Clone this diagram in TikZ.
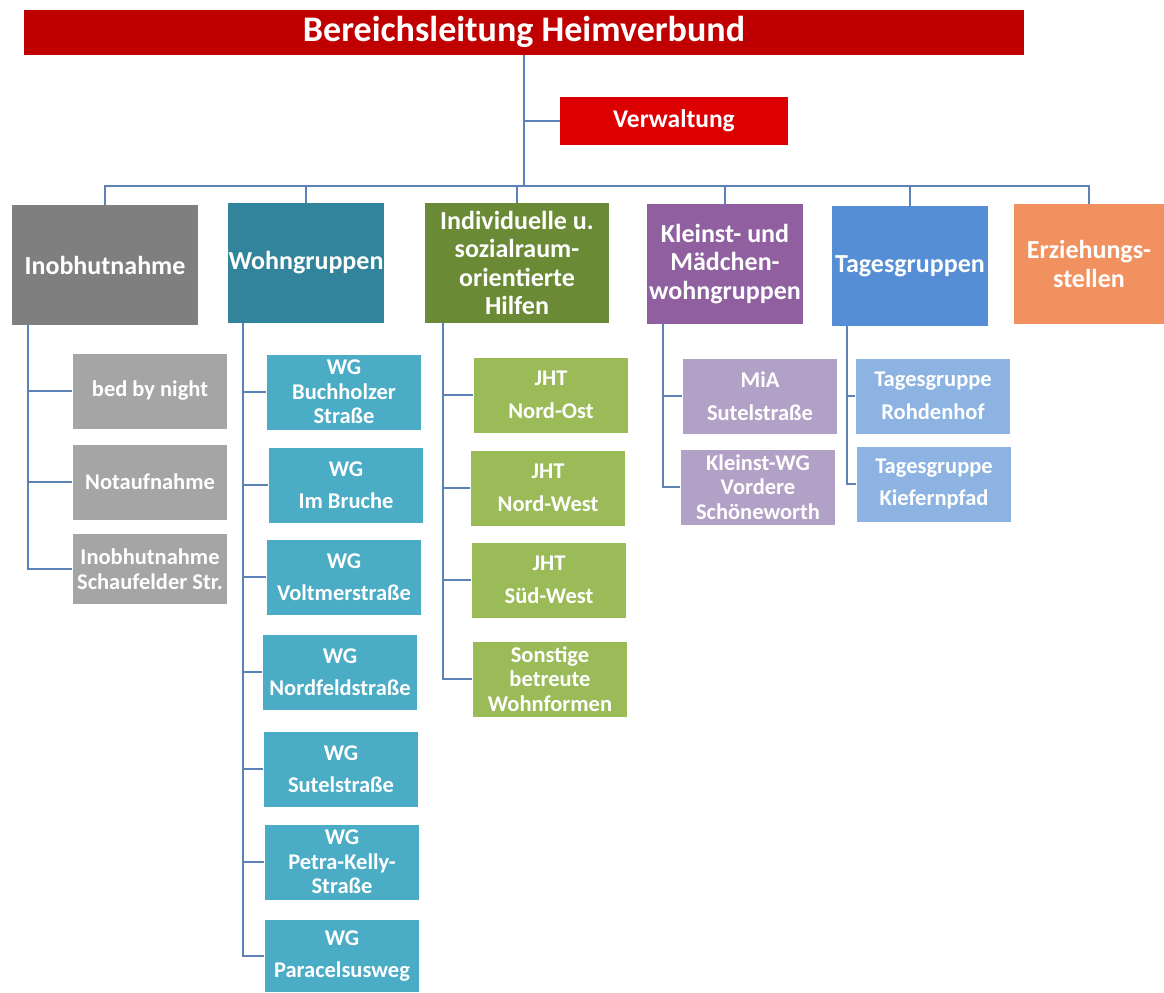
\documentclass[tikz,border=0pt]{standalone}
\usepackage{fontspec}
\setmainfont{Carlito}
\usepackage{tikz}
\usetikzlibrary{calc}
\definecolor{chefrot}{HTML}{C00000}
\definecolor{verwrot}{HTML}{DD0000}
\definecolor{graudunkel}{HTML}{7F7F7F}
\definecolor{grauhell}{HTML}{A5A5A5}
\definecolor{petroldunkel}{HTML}{31849B}
\definecolor{petrolhell}{HTML}{4BACC6}
\definecolor{gruendunkel}{HTML}{6B8A35}
\definecolor{gruenhell}{HTML}{9BBB59}
\definecolor{liladunkel}{HTML}{905F9F}
\definecolor{lilahell}{HTML}{B2A1C7}
\definecolor{blaudunkel}{HTML}{558ED5}
\definecolor{blauhell}{HTML}{8DB3E2}
\definecolor{orange}{HTML}{F0915F}
\definecolor{linie}{HTML}{5C82B8}
\tikzset{box/.style={inner sep=0pt, text=white, align=center, font=\bfseries}}
\tikzset{haupt/.style={box, minimum width=3.12cm, minimum height=2.4cm, font=\fontsize{14.8}{16}\bfseries}}
\tikzset{unter/.style={box, minimum width=3.1cm, minimum height=1.5cm, font=\fontsize{12.8}{18.5}\bfseries}}
\tikzset{eng/.style={font=\fontsize{12.8}{13.9}\bfseries}}
\tikzset{conn/.style={draw=linie, line width=1.1pt}}

\begin{document}
\begin{tikzpicture}[x=0.02cm, y=-0.02cm]
            \useasboundingbox (0,0) rectangle (1164,992);

            % Leitung
            \node [box, fill=chefrot, minimum width=20cm, minimum height=0.9cm,
              font=\fontsize{20.5}{20.5}\bfseries] (chef) at (524,32) {Bereichsleitung Heimverbund};
            \node [box, fill=verwrot, minimum width=4.56cm, minimum height=0.96cm,
              font=\fontsize{14.5}{14.5}\bfseries] (verw) at (674,121) {Verwaltung};
            \coordinate (bus) at (524,186);

            % Bereiche
            \node [haupt, fill=graudunkel, minimum width=3.72cm] (inob) at (105,265) {Inobhutnahme};
            \node [haupt, fill=petroldunkel] (wohn) at (306,263) {Wohngruppen};
            \node [haupt, fill=gruendunkel, minimum width=3.68cm] (indiv) at (517,263)
              {Individuelle u.\\sozialraum-\\orientierte\\Hilfen};
            \node [haupt, fill=liladunkel] (klein) at (725,264) {Kleinst- und\\Mädchen-\\wohngruppen};
            \node [haupt, fill=blaudunkel] (tages) at (910,266) {Tagesgruppen};
            \node [haupt, fill=orange, minimum width=3.02cm] (erz) at (1089,264) {Erziehungs-\\stellen};

            % Inobhutnahme
            \node [unter, fill=grauhell] (bed) at (150,391) {bed by night};
            \node [unter, fill=grauhell] (nota) at (150,482) {Notaufnahme};
            \node [unter, eng, fill=grauhell, minimum height=1.4cm] (schau) at (150,569)
              {Inobhutnahme\\Schaufelder Str.};

            % Wohngruppen
            \node [unter, eng, fill=petrolhell] (buch) at (344,392) {WG\\Buchholzer\\Straße};
            \node [unter, fill=petrolhell] (bruch) at (346,485) {WG\\Im Bruche};
            \node [unter, fill=petrolhell] (voltm) at (344,577) {WG\\Voltmerstraße};
            \node [unter, fill=petrolhell] (nordf) at (340,672) {WG\\Nordfeldstraße};
            \node [unter, fill=petrolhell] (sutel) at (341,769) {WG\\Sutelstraße};
            \node [unter, eng, fill=petrolhell] (petra) at (342,862) {WG\\Petra-Kelly-\\Straße};
            \node [unter, fill=petrolhell, minimum height=1.44cm] (parac) at (342,956) {WG\\Paracelsusweg};

            % Individuelle Hilfen
            \node [unter, fill=gruenhell] (jhtno) at (551,395) {JHT\\Nord-Ost};
            \node [unter, fill=gruenhell] (jhtnw) at (548,488) {JHT\\Nord-West};
            \node [unter, fill=gruenhell] (jhtsw) at (549,580) {JHT\\Süd-West};
            \node [unter, eng, fill=gruenhell] (sonst) at (550,679) {Sonstige\\betreute\\Wohnformen};

            % Kleinst- und Maedchenwohngruppen
            \node [unter, fill=lilahell] (mia) at (760,396) {MiA\\Sutelstraße};
            \node [unter, eng, fill=lilahell] (vord) at (758,487) {Kleinst-WG\\Vordere\\Schöneworth};

            % Tagesgruppen
            \node [unter, fill=blauhell] (rohd) at (933,396) {Tagesgruppe\\Rohdenhof};
            \node [unter, fill=blauhell] (kief) at (934,484) {Tagesgruppe\\Kiefernpfad};

            % Linien
            \draw [conn] (chef.south) -- (bus);
            \draw [conn] (chef.south) |- (verw.west);
            \foreach \n in {inob,wohn,indiv,klein,tages,erz}
              \draw [conn] (bus) -| (\n.north);
            \foreach \n in {bed,nota,schau}
              \draw [conn] ([xshift=0.32cm]inob.south west) |- (\n.west);
            \foreach \n in {buch,bruch,voltm,nordf,sutel,petra,parac}
              \draw [conn] ([xshift=0.3cm]wohn.south west) |- (\n.west);
            \foreach \n in {jhtno,jhtnw,jhtsw,sonst}
              \draw [conn] ([xshift=0.36cm]indiv.south west) |- (\n.west);
            \foreach \n in {mia,vord}
              \draw [conn] ([xshift=0.32cm]klein.south west) |- (\n.west);
            \foreach \n in {rohd,kief}
              \draw [conn] ([xshift=0.3cm]tages.south west) |- (\n.west);
          \end{tikzpicture}
\end{document}
